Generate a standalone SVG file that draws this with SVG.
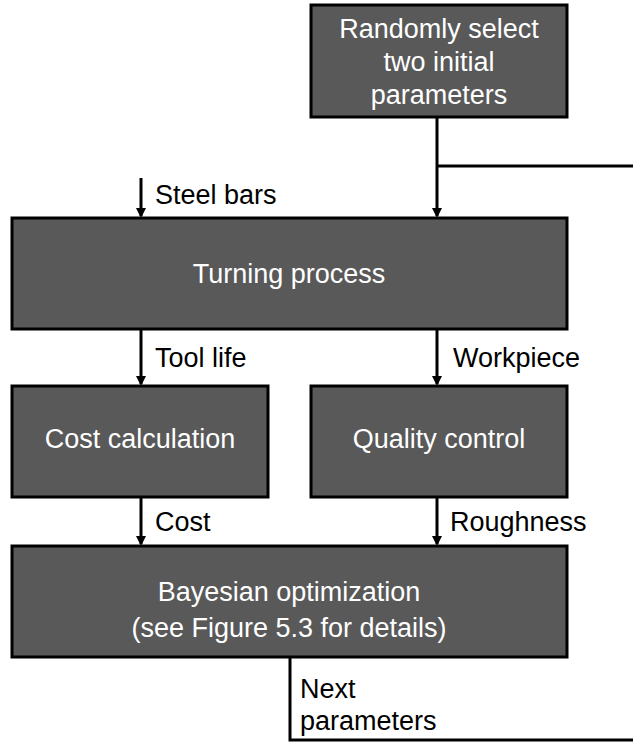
<svg xmlns="http://www.w3.org/2000/svg" width="633" height="745" viewBox="0 0 633 745">
<style>
.box{fill:#595959;stroke:#000;stroke-width:3}
.t{font-family:"Liberation Sans",Arial,sans-serif;font-size:27px;fill:#fff;text-anchor:middle}
.l{font-family:"Liberation Sans",Arial,sans-serif;font-size:27px;fill:#000}
.c{fill:none;stroke:#000;stroke-width:3}
</style>
<defs>
<marker id="ah" markerWidth="10" markerHeight="10" refX="8" refY="5" orient="auto" markerUnits="userSpaceOnUse">
<path d="M0,0 L10,5 L0,10 Z" fill="#000"/>
</marker>
</defs>
<g id="n-random"><rect class="box" x="311" y="5" width="256" height="112"/>
<text class="t" x="439" y="38">Randomly select</text>
<text class="t" x="439" y="71">two initial</text>
<text class="t" x="439" y="104">parameters</text></g>
<g id="n-turning"><rect class="box" x="12" y="218" width="555" height="111"/>
<text class="t" x="289" y="283">Turning process</text></g>
<g id="n-cost"><rect class="box" x="12" y="386" width="256" height="111"/>
<text class="t" x="140" y="448">Cost calculation</text></g>
<g id="n-quality"><rect class="box" x="311" y="386" width="256" height="111"/>
<text class="t" x="439" y="448">Quality control</text></g>
<g id="n-bayes"><rect class="box" x="12" y="546" width="555" height="111"/>
<text class="t" x="289" y="601">Bayesian optimization</text>
<text class="t" x="289" y="637">(see Figure 5.3 for details)</text></g>
<g id="connectors">
<path class="c" d="M437,117 V216" marker-end="url(#ah)"/>
<path class="c" d="M437,166 H633"/>
<path class="c" d="M141,178 V216" marker-end="url(#ah)"/>
<path class="c" d="M141,330 V384" marker-end="url(#ah)"/>
<path class="c" d="M437,330 V384" marker-end="url(#ah)"/>
<path class="c" d="M141,498 V544" marker-end="url(#ah)"/>
<path class="c" d="M437,498 V544" marker-end="url(#ah)"/>
<path class="c" d="M290,657 V740 H633"/>
<text class="l" x="155" y="204">Steel bars</text>
<text class="l" x="155" y="367">Tool life</text>
<text class="l" x="453" y="367">Workpiece</text>
<text class="l" x="155" y="531">Cost</text>
<text class="l" x="450" y="531">Roughness</text>
<text class="l" x="300" y="698">Next</text>
<text class="l" x="300" y="730">parameters</text>
</g>
</svg>
